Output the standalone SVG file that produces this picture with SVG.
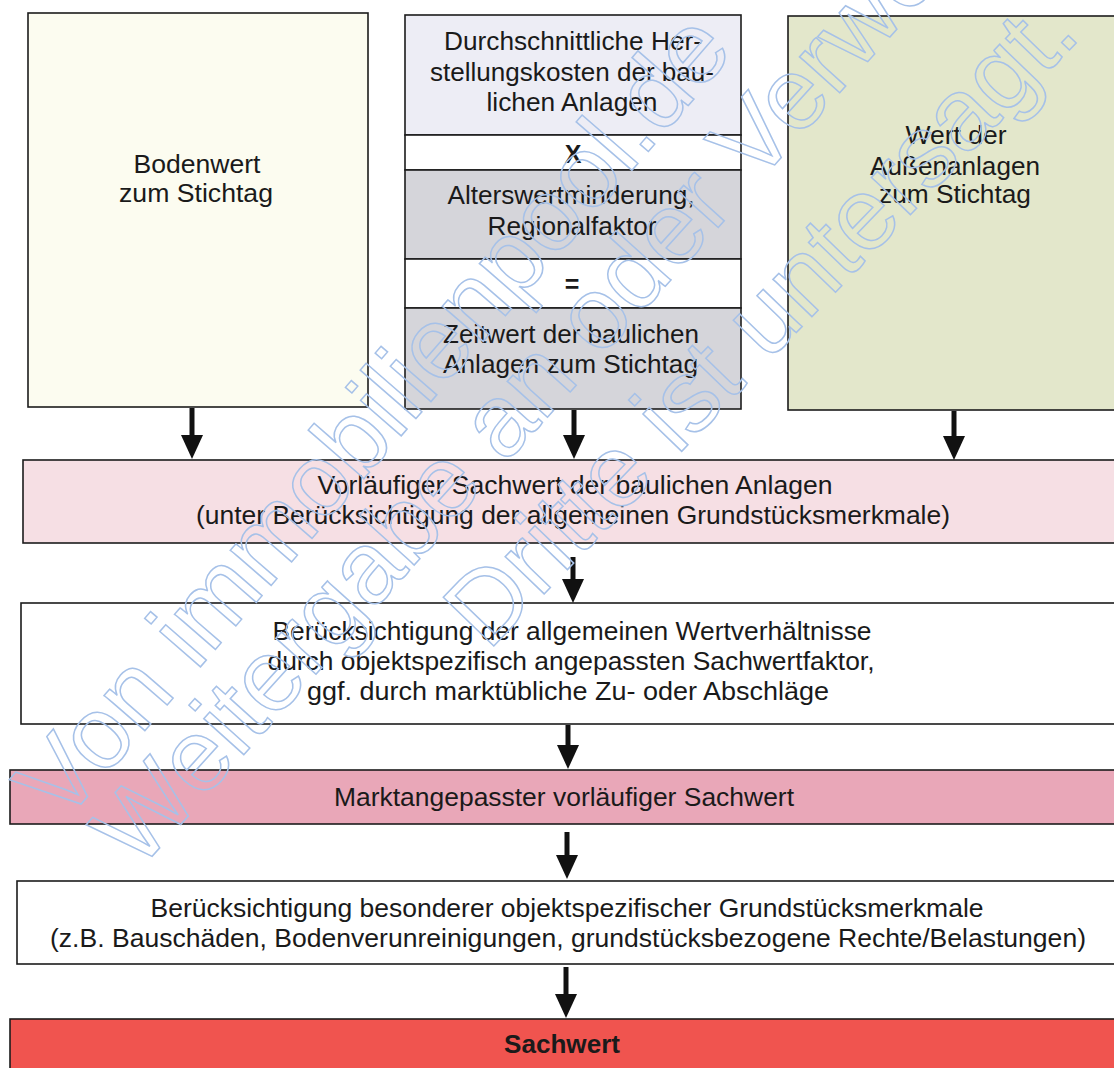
<svg xmlns="http://www.w3.org/2000/svg" width="1114" height="1068" viewBox="0 0 1114 1068">
  <style>
    .box { stroke: #1c1c1c; stroke-width: 1.6; }
    .t { font-family: "Liberation Sans", Arial, sans-serif; font-size: 25px; fill: #1a1a1a; text-anchor: middle; }
    .b { font-weight: bold; }
    .conn { stroke: #111; stroke-width: 5; fill: none; }
    .wm { font-family: "Liberation Sans", Arial, sans-serif; font-size: 102px; fill: none; stroke: #a6c1e8; stroke-width: 1.5; }
  </style>
  <defs>
    <marker id="ah" viewBox="0 0 24 22" refX="0" refY="11" markerWidth="24" markerHeight="22" markerUnits="userSpaceOnUse" orient="auto">
      <path d="M0,0 L24,11 L0,22 z" fill="#111"/>
    </marker>
  </defs>
  <rect width="1114" height="1068" fill="#ffffff"/>

  <g id="bodenwert">
    <rect class="box" x="28" y="13" width="340" height="394" fill="#fcfcf0"/>
    <text class="t" x="197" y="173" textLength="127" lengthAdjust="spacingAndGlyphs">Bodenwert</text>
    <text class="t" x="196" y="202" textLength="154" lengthAdjust="spacingAndGlyphs">zum Stichtag</text>
  </g>

  <g id="herstellungskosten">
    <rect class="box" x="405" y="15" width="336" height="120" fill="#ededf5"/>
    <text class="t" x="573" y="50" textLength="258" lengthAdjust="spacingAndGlyphs">Durchschnittliche Her-</text>
    <text class="t" x="572" y="81" textLength="284" lengthAdjust="spacingAndGlyphs">stellungskosten der bau-</text>
    <text class="t" x="572" y="111" textLength="171" lengthAdjust="spacingAndGlyphs">lichen Anlagen</text>
  </g>
  <g id="mal">
    <rect class="box" x="405" y="135" width="336" height="35" fill="#ffffff"/>
    <text class="t b" x="573" y="163">X</text>
  </g>
  <g id="alterswertminderung">
    <rect class="box" x="405" y="170" width="336" height="89" fill="#d5d5da"/>
    <text class="t" x="571" y="204" textLength="247" lengthAdjust="spacingAndGlyphs">Alterswertminderung,</text>
    <text class="t" x="572" y="235" textLength="169" lengthAdjust="spacingAndGlyphs">Regionalfaktor</text>
  </g>
  <g id="gleich">
    <rect class="box" x="405" y="259" width="336" height="49" fill="#ffffff"/>
    <text class="t b" x="572" y="293">=</text>
  </g>
  <g id="zeitwert">
    <rect class="box" x="405" y="308" width="336" height="101" fill="#d5d5da"/>
    <text class="t" x="571" y="343" textLength="256" lengthAdjust="spacingAndGlyphs">Zeitwert der baulichen</text>
    <text class="t" x="570.5" y="373" textLength="255" lengthAdjust="spacingAndGlyphs">Anlagen zum Stichtag</text>
  </g>

  <g id="aussenanlagen">
    <rect class="box" x="788" y="16" width="340" height="394" fill="#e3e7cb"/>
    <text class="t" x="956" y="144" textLength="101" lengthAdjust="spacingAndGlyphs">Wert der</text>
    <text class="t" x="955" y="175" textLength="170" lengthAdjust="spacingAndGlyphs">Außenanlagen</text>
    <text class="t" x="955" y="203" textLength="152" lengthAdjust="spacingAndGlyphs">zum Stichtag</text>
  </g>

  <g id="vorlaeufiger-sachwert">
    <rect class="box" x="23" y="460" width="1105" height="83" fill="#f6dfe4"/>
    <text class="t" x="575" y="494" textLength="515" lengthAdjust="spacingAndGlyphs">Vorläufiger Sachwert der baulichen Anlagen</text>
    <text class="t" x="573" y="524" textLength="754" lengthAdjust="spacingAndGlyphs">(unter Berücksichtigung der allgemeinen Grundstücksmerkmale)</text>
  </g>

  <g id="wertverhaeltnisse">
    <rect class="box" x="21" y="603" width="1107" height="121" fill="#ffffff"/>
    <text class="t" x="572" y="640" textLength="599" lengthAdjust="spacingAndGlyphs">Berücksichtigung der allgemeinen Wertverhältnisse</text>
    <text class="t" x="571" y="670" textLength="607" lengthAdjust="spacingAndGlyphs">durch objektspezifisch angepassten Sachwertfaktor,</text>
    <text class="t" x="568" y="700" textLength="522" lengthAdjust="spacingAndGlyphs">ggf. durch marktübliche Zu- oder Abschläge</text>
  </g>

  <g id="marktangepasst">
    <rect class="box" x="10" y="770" width="1118" height="54" fill="#e9a7b8"/>
    <text class="t" x="564" y="806" textLength="460" lengthAdjust="spacingAndGlyphs">Marktangepasster vorläufiger Sachwert</text>
  </g>

  <g id="besondere-merkmale">
    <rect class="box" x="17" y="881" width="1111" height="83" fill="#ffffff"/>
    <text class="t" x="567" y="917" textLength="833" lengthAdjust="spacingAndGlyphs">Berücksichtigung besonderer objektspezifischer Grundstücksmerkmale</text>
    <text class="t" x="568" y="947" textLength="1036" lengthAdjust="spacingAndGlyphs">(z.B. Bauschäden, Bodenverunreinigungen, grundstücksbezogene Rechte/Belastungen)</text>
  </g>

  <g id="sachwert">
    <rect class="box" x="10" y="1019" width="1118" height="60" fill="#f0544f"/>
    <text class="t b" x="562" y="1053" textLength="116" lengthAdjust="spacingAndGlyphs">Sachwert</text>
  </g>

  <g id="connectors">
    <line class="conn" x1="192" y1="408" x2="192" y2="435" marker-end="url(#ah)"/>
    <line class="conn" x1="574" y1="410" x2="574" y2="435" marker-end="url(#ah)"/>
    <line class="conn" x1="954" y1="411" x2="954" y2="436" marker-end="url(#ah)"/>
    <line class="conn" x1="573" y1="557" x2="573" y2="579" marker-end="url(#ah)"/>
    <line class="conn" x1="568" y1="725" x2="568" y2="745" marker-end="url(#ah)"/>
    <line class="conn" x1="567" y1="832" x2="567" y2="855" marker-end="url(#ah)"/>
    <line class="conn" x1="566" y1="967" x2="566" y2="994" marker-end="url(#ah)"/>
  </g>

  <g id="watermark">
    <text class="wm" transform="translate(62,826) rotate(-49)">Von immobilienpool.de</text>
    <text class="wm" transform="translate(138,872) rotate(-48)">Weitergabe an oder Verwendung durch</text>
    <text class="wm" transform="translate(488,652) rotate(-46)">Dritte ist untersagt.</text>
  </g>
</svg>
